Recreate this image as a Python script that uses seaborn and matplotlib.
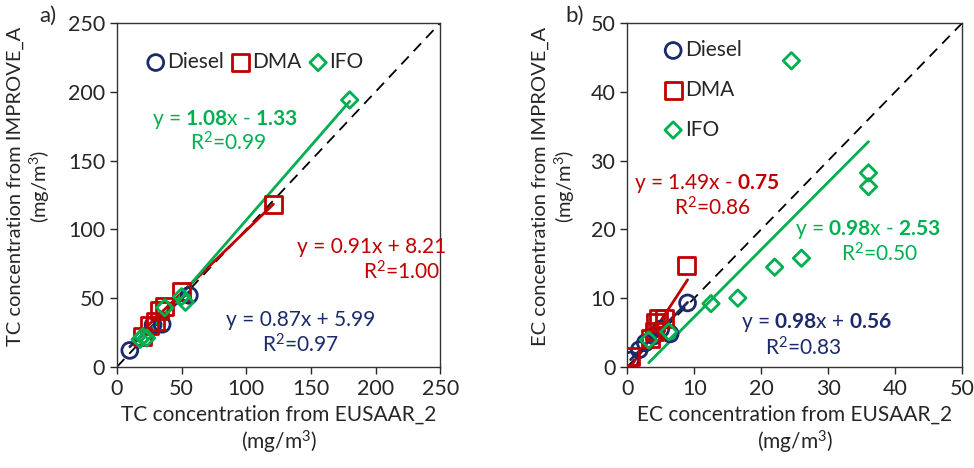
import numpy as np
import pandas as pd
import matplotlib.pyplot as plt
import seaborn as sns

sns.set_style('ticks')
plt.rcParams['font.family'] = ['Lato', 'DejaVu Sans']
plt.rcParams['mathtext.fontset'] = 'custom'
plt.rcParams['mathtext.rm'] = 'Lato'
plt.rcParams['mathtext.it'] = 'Lato'
plt.rcParams['mathtext.bf'] = 'Lato:bold'

# colours / markers per fuel
fuels = ['Diesel', 'DMA', 'IFO']
colors = {'Diesel': '#1B2A6B', 'DMA': '#C00000', 'IFO': '#00B050'}
markers = {'Diesel': 'o', 'DMA': 's', 'IFO': 'D'}

# panel a: TC (EUSAAR_2 vs IMPROVE_A)
tc_diesel_x = [10, 28, 35, 56]
tc_diesel_y = [12, 30.5, 31, 52]
tc_dma_x = [20, 25, 30, 33, 37, 50, 121]
tc_dma_y = [22, 30, 33, 41, 44, 55, 118]
tc_ifo_x = [18, 20, 23, 37, 50, 53, 180]
tc_ifo_y = [20, 22, 21, 43, 51, 47, 194]

# panel b: EC
ec_diesel_x = [0.5, 1.8, 2.7, 4.0, 5.0, 6.4, 9.0]
ec_diesel_y = [1.0, 2.5, 3.5, 4.5, 5.5, 4.8, 9.3]
ec_dma_x = [0.5, 3.5, 4.0, 4.2, 4.6, 5.6, 8.8]
ec_dma_y = [1.5, 4.2, 5.2, 6.5, 7.0, 7.0, 14.8]
ec_ifo_x = [3.2, 6.2, 12.5, 16.5, 22.0, 26.0, 24.5, 36.0, 36.0]
ec_ifo_y = [3.9, 5.1, 9.2, 10.0, 14.5, 15.8, 44.5, 28.2, 26.2]

# fit lines: slope, intercept, x range
tc_fits = {'Diesel': (0.87, 5.99, 10, 56), 'DMA': (0.91, 8.21, 20, 121), 'IFO': (1.08, -1.33, 18, 180)}
ec_fits = {'Diesel': (0.98, 0.56, 0.5, 9.0), 'DMA': (1.49, -0.75, 0.5, 9.0), 'IFO': (0.98, -2.53, 3.2, 36.0)}

tc = pd.DataFrame({
    'x': tc_diesel_x + tc_dma_x + tc_ifo_x,
    'y': tc_diesel_y + tc_dma_y + tc_ifo_y,
    'fuel': ['Diesel'] * len(tc_diesel_x) + ['DMA'] * len(tc_dma_x) + ['IFO'] * len(tc_ifo_x)})
ec = pd.DataFrame({
    'x': ec_diesel_x + ec_dma_x + ec_ifo_x,
    'y': ec_diesel_y + ec_dma_y + ec_ifo_y,
    'fuel': ['Diesel'] * len(ec_diesel_x) + ['DMA'] * len(ec_dma_x) + ['IFO'] * len(ec_ifo_x)})

fig = plt.figure(figsize=(9.74, 4.68), dpi=100)
ax1 = fig.add_axes([0.120, 0.216, 0.332, 0.735])
ax2 = fig.add_axes([0.644, 0.216, 0.344, 0.735])

sizes = {'o': 130, 's': 150, 'D': 70}

def draw(ax, df, fits, lim, step):
    ax.plot([0, lim], [0, lim], ls=(0, (6, 4)), color='black', lw=1.3, zorder=1)
    for f in fuels:
        m, b, x0, x1 = fits[f]
        xs = np.array([x0, x1])
        sns.lineplot(x=xs, y=m * xs + b, color=colors[f], lw=2, ax=ax, zorder=2)
    for f in fuels:
        d = df[df['fuel'] == f]
        sns.scatterplot(data=d, x='x', y='y', marker=markers[f], s=sizes[markers[f]],
                        color=colors[f], facecolor='none', edgecolor=colors[f],
                        linewidth=2, ax=ax, label=f, zorder=3)
    ax.set_xlim(0, lim)
    ax.set_ylim(0, lim)
    ax.set_xticks(np.arange(0, lim + 1, step))
    ax.set_yticks(np.arange(0, lim + 1, step))
    ax.tick_params(labelsize=15.5, length=5, width=1, direction='out')
    for s in ax.spines.values():
        s.set_linewidth(1)
        s.set_color('#333333')

draw(ax1, tc, tc_fits, 250, 50)
draw(ax2, ec, ec_fits, 50, 10)

lfs = 15
ax1.set_xlabel('TC concentration from EUSAAR_2\n(mg/m$^3$)', fontsize=lfs)
ax1.set_ylabel('TC concentration from IMPROVE_A\n(mg/m$^3$)', fontsize=14.5)
ax2.set_xlabel('EC concentration from EUSAAR_2\n(mg/m$^3$)', fontsize=lfs)
ax2.set_ylabel('EC concentration from IMPROVE_A\n(mg/m$^3$)', fontsize=14.5)
ax1.yaxis.set_label_coords(-0.2, 0.525)
ax2.yaxis.set_label_coords(-0.15, 0.525)

ax1.legend(ncol=3, loc='upper left', bbox_to_anchor=(0.03, 0.97), frameon=False,
           fontsize=15, handletextpad=0.05, columnspacing=0.3, handlelength=1.0)
ax2.legend(ncol=1, loc='upper left', bbox_to_anchor=(0.05, 1.005), frameon=False,
           fontsize=15, handletextpad=0.05, labelspacing=0.95, handlelength=1.0)

fig.text(0.040, 0.966, 'a)', fontsize=16, va='center')
fig.text(0.580, 0.966, 'b)', fontsize=16, va='center')

fs = 15
# panel a annotations
ax1.text(84, 180, r'y = $\mathbf{1.08}$x - $\mathbf{1.33}$', color=colors['IFO'], fontsize=fs, ha='center', va='center')
ax1.text(86, 163, r'R$^2$=0.99', color=colors['IFO'], fontsize=fs, ha='center', va='center')
ax1.text(197, 87, 'y = 0.91x + 8.21', color=colors['DMA'], fontsize=fs, ha='center', va='center')
ax1.text(220, 69, r'R$^2$=1.00', color=colors['DMA'], fontsize=fs, ha='center', va='center')
ax1.text(142, 34, 'y = 0.87x + 5.99', color=colors['Diesel'], fontsize=fs, ha='center', va='center')
ax1.text(142, 16, r'R$^2$=0.97', color=colors['Diesel'], fontsize=fs, ha='center', va='center')

# panel b annotations
ax2.text(11.9, 26.7, r'y = 1.49x - $\mathbf{0.75}$', color=colors['DMA'], fontsize=fs, ha='center', va='center')
ax2.text(12.7, 23.1, r'R$^2$=0.86', color=colors['DMA'], fontsize=fs, ha='center', va='center')
ax2.text(36.0, 20.0, r'y = $\mathbf{0.98}$x - $\mathbf{2.53}$', color=colors['IFO'], fontsize=fs, ha='center', va='center')
ax2.text(37.7, 16.4, r'R$^2$=0.50', color=colors['IFO'], fontsize=fs, ha='center', va='center')
ax2.text(28.2, 6.4, r'y = $\mathbf{0.98}$x + $\mathbf{0.56}$', color=colors['Diesel'], fontsize=fs, ha='center', va='center')
ax2.text(26.2, 2.8, r'R$^2$=0.83', color=colors['Diesel'], fontsize=fs, ha='center', va='center')

plt.savefig('out.png', dpi=100)
